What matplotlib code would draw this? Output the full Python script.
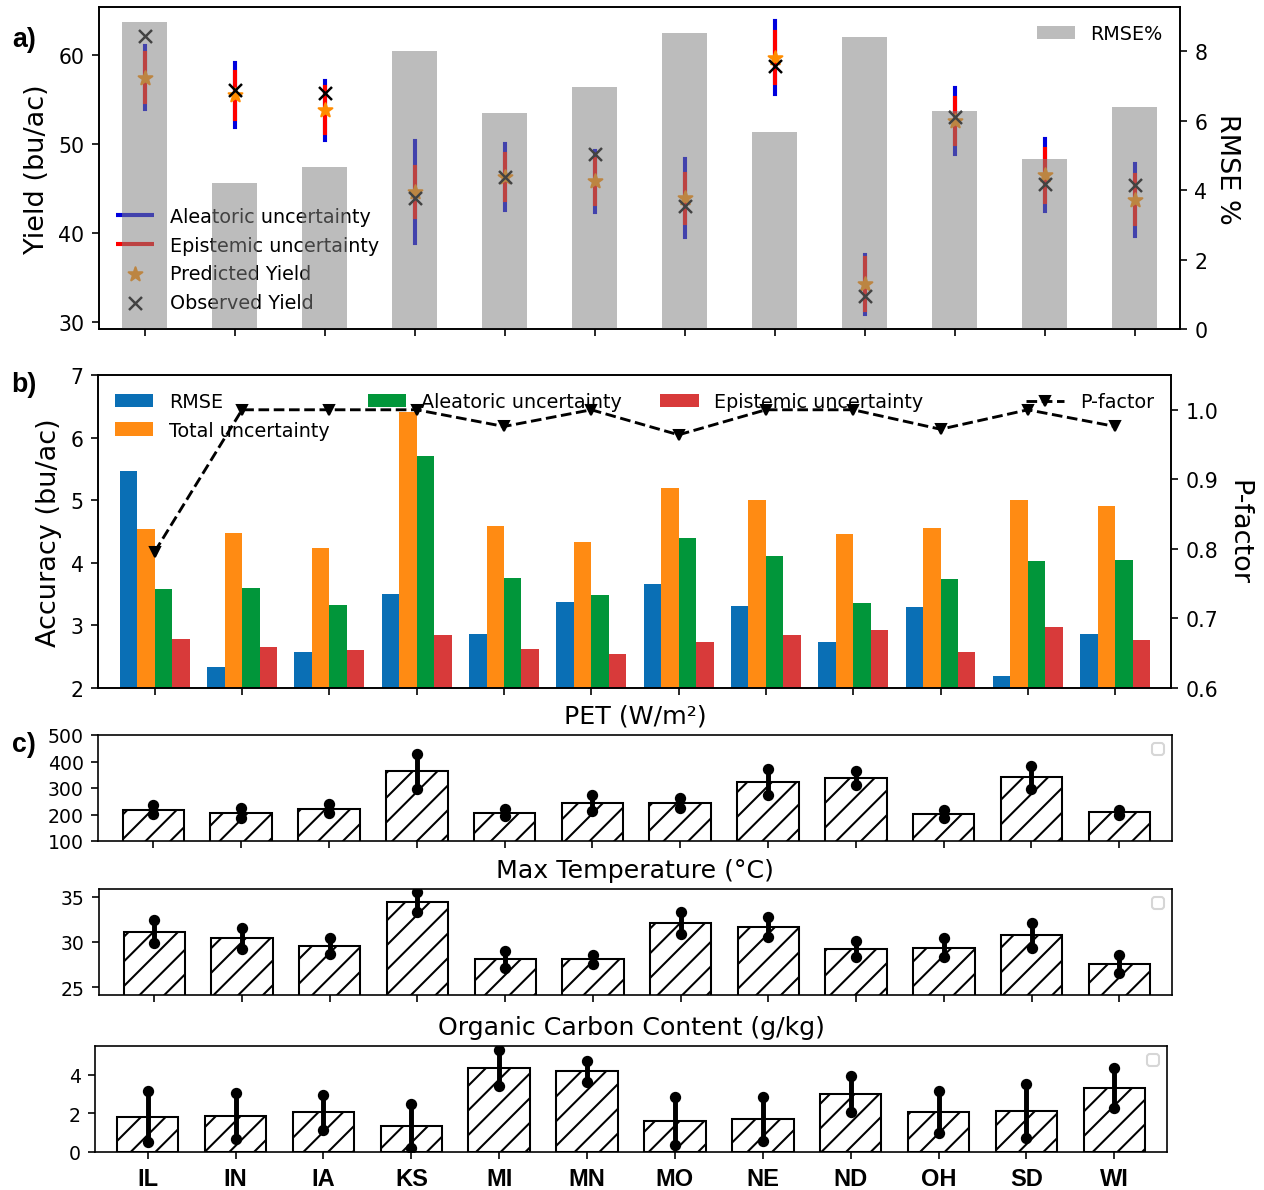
import numpy as np
import matplotlib
matplotlib.use("Agg")
import matplotlib.pyplot as plt

# ---------------------------------------------------------------- data
states = ["IL", "IN", "IA", "KS", "MI", "MN", "MO", "NE", "ND", "OH", "SD", "WI"]

# a) yield (bu/ac) and RMSE%
observed_yield = [62.2, 56.1, 55.7, 43.9, 46.3, 48.9, 43.0, 58.8, 32.9, 53.0, 45.5, 45.4]
predicted_yield = [57.5, 55.5, 53.8, 44.6, 46.3, 45.8, 43.9, 59.75, 34.2, 52.6, 46.5, 43.75]
rmse_pct = [8.84, 4.21, 4.67, 8.02, 6.23, 6.97, 8.53, 5.68, 8.42, 6.28, 4.89, 6.39]

# b) accuracy (bu/ac) and P-factor
rmse = [5.46, 2.33, 2.58, 3.50, 2.86, 3.37, 3.66, 3.31, 2.74, 3.29, 2.19, 2.86]
total_unc = [4.54, 4.48, 4.24, 6.41, 4.58, 4.33, 5.20, 5.01, 4.46, 4.56, 5.01, 4.91]
aleatoric_unc = [3.58, 3.60, 3.33, 5.71, 3.76, 3.48, 4.40, 4.11, 3.35, 3.74, 4.03, 4.05]
epistemic_unc = [2.78, 2.66, 2.60, 2.84, 2.62, 2.55, 2.73, 2.84, 2.92, 2.57, 2.97, 2.76]
p_factor = [0.796, 1.0, 1.0, 1.0, 0.976, 1.0, 0.964, 1.0, 1.0, 0.972, 1.0, 0.976]

# c) environmental covariates: mean and spread
pet_mean = [218, 207, 222, 364, 207, 244, 244, 322, 339, 201, 340, 208]
pet_err = [17, 19, 17, 66, 14, 30, 18, 49, 27, 16, 43, 10]
tmax_mean = [31.15, 30.4, 29.55, 34.45, 28.1, 28.1, 32.1, 31.65, 29.25, 29.35, 30.75, 27.6]
tmax_err = [1.3, 1.2, 0.9, 1.1, 0.95, 0.5, 1.25, 1.1, 0.9, 1.05, 1.4, 1.0]
oc_mean = [1.83, 1.86, 2.05, 1.34, 4.34, 4.17, 1.59, 1.69, 3.0, 2.07, 2.12, 3.31]
oc_err = [1.33, 1.19, 0.9, 1.15, 0.93, 0.55, 1.23, 1.14, 0.95, 1.08, 1.39, 1.04]

# ---------------------------------------------------------------- figure
W, H, DPI = 1264, 1191, 148
plt.rcParams["font.family"] = ["DejaVu Sans"]
fig = plt.figure(figsize=(W / DPI, H / DPI), dpi=DPI)


def rect(left, top, right, bottom):
    return [left / W, 1 - bottom / H, (right - left) / W, (bottom - top) / H]


x = np.arange(len(states))
LEG_FS = 9.3
LAB_FS = 13.2

# ---------------------------------------------------------------- a)
ax = fig.add_axes(rect(99, 8, 1180, 330))
pred = np.array(predicted_yield)
al = np.array(aleatoric_unc)
ep = np.array(epistemic_unc)
ax.vlines(x, pred - al, pred + al, colors="#0000dd", linewidth=2.0,
          capstyle="projecting", label="Aleatoric uncertainty")
ax.vlines(x, pred - ep, pred + ep, colors="red", linewidth=2.0,
          capstyle="projecting", label="Epistemic uncertainty")
ax.scatter(x, pred, marker="*", s=50, color="darkorange", zorder=3,
           label="Predicted Yield")
ax.scatter(x, observed_yield, marker="x", s=40, color="black", linewidths=1.2,
           zorder=4, label="Observed Yield")
ax.set_xlim(-0.51, 11.5)
ax.set_ylim(29.18, 65.44)
ax.set_yticks([30, 40, 50, 60])
ax.set_xticks(x)
ax.set_xticklabels([])
ax.tick_params(labelsize=10)
ax.set_ylabel("Yield (bu/ac)", fontsize=LAB_FS)
ax.legend(loc="lower left", frameon=False, fontsize=LEG_FS)

ax2 = ax.twinx()
ax2.bar(x, rmse_pct, width=0.5, color="grey", alpha=0.52, label="RMSE%")
ax2.set_ylim(0, 9.28)
ax2.set_yticks([0, 2, 4, 6, 8])
ax2.tick_params(labelsize=10)
ax2.set_ylabel("RMSE %", rotation=270, fontsize=LAB_FS, labelpad=16)
ax2.legend(loc="upper right", frameon=False, fontsize=LEG_FS)

# ---------------------------------------------------------------- b)
bx = fig.add_axes(rect(98, 376, 1171, 689))
bw = 0.2
series = [
    (rmse, "#0a6fb5", "RMSE"),
    (total_unc, "#ff8b13", "Total uncertainty"),
    (aleatoric_unc, "#01963a", "Aleatoric uncertainty"),
    (epistemic_unc, "#d83a3a", "Epistemic uncertainty"),
]
for k, (vals, col, lab) in enumerate(series):
    bx.bar(x + (k - 1.5) * bw, vals, width=bw, color=col, label=lab)
bx.set_xlim(-0.65, 11.64)
bx.set_ylim(2, 7)
bx.set_xticks(x)
bx.set_xticklabels([])
bx.tick_params(labelsize=10)
bx.set_ylabel("Accuracy (bu/ac)", fontsize=LAB_FS)
bx.legend(loc="upper left", ncol=3, frameon=False, fontsize=LEG_FS)

bx2 = bx.twinx()
bx2.plot(x, p_factor, "k--v", lw=1.4, ms=5, label="P-factor")
bx2.set_ylim(0.6, 1.05)
bx2.set_yticks([0.6, 0.7, 0.8, 0.9, 1.0])
bx2.tick_params(labelsize=10)
bx2.set_ylabel("P-factor", rotation=270, fontsize=LAB_FS, labelpad=16)
bx2.legend(loc="upper right", frameon=False, fontsize=LEG_FS)

# ---------------------------------------------------------------- c)
panels = [
    (rect(98, 736, 1172, 842), pet_mean, pet_err, "PET (W/m²)",
     (100, 500), [100, 200, 300, 400, 500], (-0.63, 11.6)),
    (rect(99, 890, 1172, 996), tmax_mean, tmax_err, "Max Temperature (°C)",
     (24.15, 35.85), [25, 30, 35], (-0.63, 11.6)),
    (rect(95, 1047, 1167, 1153), oc_mean, oc_err, "Organic Carbon Content (g/kg)",
     (0, 5.48), [0, 2, 4], (-0.6, 11.6)),
]
for i, (r, mean, err, title, ylim, yticks, xlim) in enumerate(panels):
    cx = fig.add_axes(r)
    cx.bar(x, mean, width=0.7, color="white", edgecolor="black",
           hatch="//", linewidth=1.0)
    for xi, m, e in zip(x, mean, err):
        cx.plot([xi, xi], [m - e, m + e], "-o", color="black", lw=2.4, ms=4.5)
    cx.set_xlim(*xlim)
    cx.set_ylim(*ylim)
    cx.set_yticks(yticks)
    cx.set_xticks(x)
    cx.tick_params(labelsize=9.2)
    cx.set_title(title, fontsize=12.3)
    cx.legend(handles=[], loc="upper right", fontsize=7.5)
    if i == len(panels) - 1:
        cx.set_xticklabels(states, fontweight="bold", fontsize=11.5,
                           family=["Liberation Sans"])
        cx.tick_params(axis="x", pad=4)
    else:
        cx.set_xticklabels([])

# panel letters
for lab, yy in [("a)", 40), ("b)", 385), ("c)", 745)]:
    fig.text(24 / W, 1 - yy / H, lab, fontsize=13, fontweight="bold",
             family=["Liberation Sans"], ha="center", va="center")

fig.savefig("out.png", dpi=DPI)
